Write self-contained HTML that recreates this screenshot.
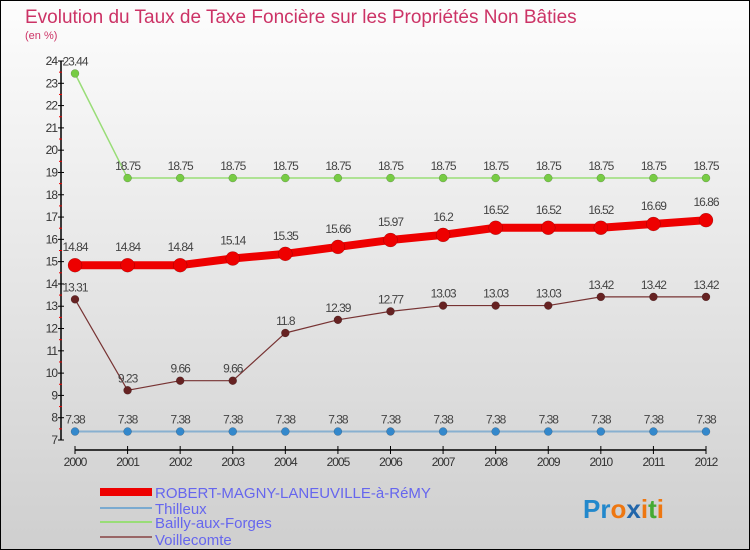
<!DOCTYPE html>
<html><head><meta charset="utf-8"><style>
html,body{margin:0;padding:0}
body{width:750px;height:550px;overflow:hidden;font-family:"Liberation Sans",sans-serif}
#frame{position:absolute;left:0;top:0;width:748px;height:548px;border:1px solid #000;background:linear-gradient(#fdfdfd,#cfcfcf)}
</style></head><body>
<div id="frame">
<svg id="chart" width="750" height="550" style="position:absolute;left:-1px;top:-1px">
<text x="25" y="23" font-size="19" fill="#cc3366">Evolution du Taux de Taxe Foncière sur les Propriétés Non Bâties</text>
<text x="25" y="39" font-size="11" fill="#cc3366">(en %)</text>
<g id="axes"></g><g id="series"></g>
<g>
<rect x="100" y="488" width="52" height="8" fill="#e00"/>
<text x="155" y="498" font-size="15" fill="#6666ee">ROBERT-MAGNY-LANEUVILLE-à-RéMY</text>
<rect x="100" y="507" width="52" height="2" fill="#7aaad0"/>
<text x="155" y="514" font-size="15" fill="#6666ee">Thilleux</text>
<rect x="100" y="521" width="52" height="2" fill="#99dd77"/>
<text x="155" y="528" font-size="15" fill="#6666ee">Bailly-aux-Forges</text>
<rect x="100" y="536" width="52" height="2" fill="#996666"/>
<text x="155" y="545" font-size="15" fill="#6666ee">Voillecomte</text>
</g>
<text x="583" y="518" font-size="26" font-weight="bold"><tspan fill="#2288cc">Pr</tspan><tspan fill="#ee7711">o</tspan><tspan fill="#2266aa">x</tspan><tspan fill="#ee7711">i</tspan><tspan fill="#44aa33">t</tspan><tspan fill="#ee7711">i</tspan></text>
</svg>
</div>
<script>
const years=[2000,2001,2002,2003,2004,2005,2006,2007,2008,2009,2010,2011,2012];
const yTicks=[7,8,9,10,11,12,13,14,15,16,17,18,19,20,21,22,23,24];
const robert=[14.84,14.84,14.84,15.14,15.35,15.66,15.97,16.2,16.52,16.52,16.52,16.69,16.86];
const thilleux=[7.38,7.38,7.38,7.38,7.38,7.38,7.38,7.38,7.38,7.38,7.38,7.38,7.38];
const bailly=[23.44,18.75,18.75,18.75,18.75,18.75,18.75,18.75,18.75,18.75,18.75,18.75,18.75];
const voille=[13.31,9.23,9.66,9.66,11.8,12.39,12.77,13.03,13.03,13.03,13.42,13.42,13.42];
const NS="http://www.w3.org/2000/svg";
const X=i=>75+i*(706-75)/(years.length-1);
const Y=v=>440-(v-7)*(440-61)/17;
function mk(t,a,p){const e=document.createElementNS(NS,t);for(const k in a)e.setAttribute(k,a[k]);p.appendChild(e);return e;}
const ax=document.getElementById('axes');
const yl=mk('line',{x1:61,y1:Y(24),x2:61,y2:Y(7),stroke:'#000','stroke-width':1.5},ax);


yTicks.forEach(v=>{
 mk('line',{x1:58,y1:Y(v),x2:64,y2:Y(v),stroke:'#000'},ax);
 if(v<24)mk('line',{x1:59,y1:Y(v+0.5),x2:62,y2:Y(v+0.5),stroke:'#e00'},ax);
 const t=mk('text',{x:57,y:Y(v)+4,'font-size':12,fill:'#333','text-anchor':'end','letter-spacing':'-1'},ax);
 t.textContent=v;
 
 
});
const xl=mk('line',{x1:X(0),y1:450,x2:X(12),y2:450,stroke:'#000','stroke-width':1.5},ax);


years.forEach((yr,i)=>{
 mk('line',{x1:X(i),y1:446,x2:X(i),y2:454,stroke:'#000'},ax);
 const t=mk('text',{x:X(i),y:466,'font-size':12,fill:'#333','text-anchor':'middle','letter-spacing':'-1'},ax);
 t.textContent=yr;
 
 
});
const sg=document.getElementById('series');
function series(name,vals,color,w,r,dot,lblOff){
 const g=mk('g',{},sg);
 
 
 mk('polyline',{points:vals.map((v,i)=>X(i)+','+Y(v)).join(' '),fill:'none',stroke:color,'stroke-width':w,'stroke-linejoin':'round'},g);
 vals.forEach((v,i)=>{
  const c=mk('circle',{cx:X(i),cy:Y(v),r:r,fill:dot,stroke:'rgba(0,0,0,0.3)','stroke-width':0.5},g);
  
  
  const t=mk('text',{x:X(i),y:Y(v)-lblOff,'font-size':12,fill:'#444','text-anchor':'middle','letter-spacing':'-1'},g);
  t.textContent=v;
  
  
 });
}
series('series-bailly',bailly,'#99dd77',1.5,4,'#77cc44',8);
series('series-voillecomte',voille,'#773333',1.2,4,'#662222',8);
series('series-thilleux',thilleux,'#88b0d0',2,4,'#3388cc',8);
series('series-robert',robert,'#ee0000',8,7,'#ee0000',14);
</script>
</body></html>
